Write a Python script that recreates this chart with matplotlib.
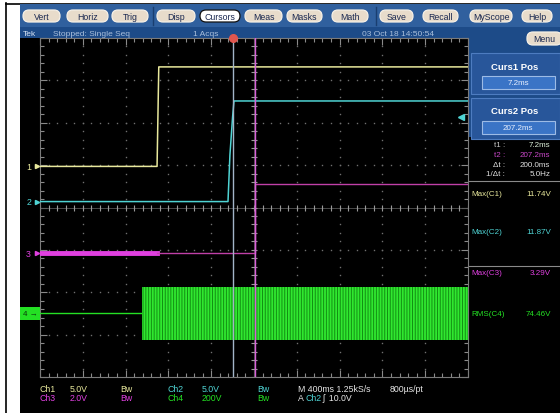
import numpy as np
import matplotlib
matplotlib.use("Agg")
import matplotlib.pyplot as plt
import matplotlib.transforms as mtrans
from matplotlib.patches import Rectangle, FancyBboxPatch

plt.rcParams['font.family'] = ['Liberation Sans Narrow', 'Liberation Sans', 'DejaVu Sans']
plt.rcParams['hatch.linewidth'] = 0.7

# =========================
# 数据（从截图读出）
# =========================
t_start, t_end = -1.8, 2.2          # s, 10 div x 400ms
sec_per_div = 0.4

ch_names = ['Ch1', 'Ch2', 'Ch3', 'Ch4']
ch_scale = [5.0, 5.0, 2.0, 200.0]            # V/div
ch_offset = [0.97, 0.14, -1.08, -2.5]        # ground position (div)
ch_colors = ['#e8e89c', '#4fd4d4', '#e040e0', '#24e024']

ch1_t = [-1.8, -0.706, -0.702, -0.690, 2.2]
ch1_v = [0.0, 0.0, 2.9, 11.74, 11.74]

ch2_t = [-1.8, -0.043, -0.025, 0.0, 0.013, 2.2]
ch2_v = [0.0, 0.0, 5.5, 10.0, 11.87, 11.87]

ch3_noise_t = [-1.8, -0.706]
ch3_noise_v = [0.0, 0.0]
ch3_t = [-0.706, 0.2072, 0.2072, 2.2]
ch3_v = [0.0, 0.0, 3.29, 3.29]

ch4_t = [-1.8, -0.847]
ch4_v = [0.0, 0.0]
ch4_burst_t = [-0.847, 2.2]
ch4_peak = [125.0, 125.0]                    # V

cursor_t = [0.0072, 0.2072]                  # s
trig_level = 10.0                            # V on Ch2

meas_labels = ['Max(C1)', 'Max(C2)', 'Max(C3)', 'RMS(C4)']
meas_values = [11.74, 11.87, 3.29, 74.46]

buttons = ['Vert', 'Horiz', 'Trig', 'Disp', 'Cursors', 'Meas',
           'Masks', 'Math', 'Save', 'Recall', 'MyScope', 'Help']
button_x = [(23, 60), (67, 108), (112, 148), (157, 195), (200, 240), (245, 282),
            (287, 322), (332, 368), (380, 413), (423, 458), (470, 512), (522, 552)]


def to_div(v, i):
    return np.asarray(v) / ch_scale[i] + ch_offset[i]


# =========================
# 背景（像素坐标）
# =========================
fig = plt.figure(figsize=(5.6, 4.14), dpi=100)
bg = fig.add_axes([0, 0, 1, 1])
bg.set_xlim(0, 560)
bg.set_ylim(414, 0)
bg.axis('off')


def rect(x0, y0, x1, y1, fc, ec='none', lw=0, z=1):
    bg.add_patch(Rectangle((x0, y0), x1 - x0, y1 - y0, facecolor=fc,
                           edgecolor=ec, linewidth=lw, zorder=z))


def button(x0, x1, y0, y1, label, selected=False):
    fc = 'white' if selected else '#e8dccb'
    ec = '#111111' if selected else '#f6f0e6'
    bg.add_patch(FancyBboxPatch((x0, y0), x1 - x0, y1 - y0,
                                boxstyle='round,pad=0,rounding_size=6',
                                facecolor=fc, edgecolor=ec, linewidth=0.9, zorder=3))
    bg.text((x0 + x1) / 2, (y0 + y1) / 2 + 0.5, label, color='#1a2850', fontsize=6.3,
            ha='center', va='center', zorder=4)


rect(0, 0, 560, 414, 'white', z=0)
rect(20, 5, 560, 414, 'black')
bg.plot([6, 6], [4, 414], color='black', lw=1.2)
bg.plot([6, 560], [4.5, 4.5], color='black', lw=1.2)

# toolbar
rect(20, 5, 560, 28, '#30609e', z=2)
for lab, (x0, x1) in zip(buttons, button_x):
    button(x0, x1, 11, 23, lab, selected=(lab == 'Cursors'))
for xs in (153, 376):
    bg.plot([xs, xs], [8, 26], color='#1a3e70', lw=1, zorder=3)

# status bar
rect(20, 28, 470, 39, '#1d4b88', z=2)
bg.text(23, 34, 'Tek', color='#d8e4f4', fontsize=6, va='center', zorder=4)
bg.text(53, 34, 'Stopped: Single Seq', color='#a9bfdc', fontsize=6, va='center', zorder=4)
bg.text(193, 34, '1 Acqs', color='#a9bfdc', fontsize=6, va='center', zorder=4)
bg.text(362, 34, '03 Oct 18 14:50:54', color='#a9bfdc', fontsize=6, va='center', zorder=4)

# right panel
rect(469, 28, 560, 138, '#1d4b88', z=2)
button(527, 562, 33, 46, 'Menu')
for k, yb in enumerate((54, 99)):
    rect(471, yb, 560, yb + 41, '#28569a', ec='#4d7cc0', lw=0.8, z=3)
    rect(482, yb + 23, 555, yb + 36, '#3a74c6', ec='#9cbbe6', lw=0.8, z=4)
    bg.text(515, yb + 13, f'Curs{k + 1} Pos', color='white', fontsize=6.8,
            fontweight='bold', ha='center', va='center', zorder=5)
    bg.text(518, yb + 29.5, f'{cursor_t[k] * 1000:.1f}ms', color='#e8f0ff',
            fontsize=5.8, ha='center', va='center', zorder=5)

dt = cursor_t[1] - cursor_t[0]
readouts = [
    ('t1 :', f'{cursor_t[0] * 1000:.1f}ms', '#c8c8c8', '#dcefd8', 146),
    ('t2 :', f'{cursor_t[1] * 1000:.1f}ms', '#c848c8', '#c848c8', 156),
    ('\u0394t :', f'{dt * 1000:.1f}ms', '#e0e0e0', '#e0e0e0', 166),
    ('1/\u0394t :', f'{1 / dt:.1f}Hz', '#e0e0e0', '#e0e0e0', 175),
]
for lab, val, c1, c2, y in readouts:
    bg.text(505, y, lab, color=c1, fontsize=5.8, ha='right', va='center', zorder=5)
    bg.text(550, y, val, color=c2, fontsize=5.8, ha='right', va='center', zorder=5)

meas_y = [195, 233, 274, 315]
for i, (lab, val, y) in enumerate(zip(meas_labels, meas_values, meas_y)):
    bg.text(471, y, lab, color=ch_colors[i], fontsize=5.8, va='center', zorder=5)
    bg.text(551, y, f'{val:.2f}V', color=ch_colors[i], fontsize=5.8,
            ha='right', va='center', zorder=5)
for ys in (182, 267):
    bg.plot([469, 560], [ys, ys], color='#8a8a8a', lw=0.8, zorder=4)

# bottom readouts
row1 = [('Ch1', 40), ('5.0V', 70), ('Bw', 120), ('Ch2', 168), ('5.0V', 202), ('Bw', 257)]
row2 = [('Ch3', 40), ('2.0V', 70), ('Bw', 120), ('Ch4', 168), ('200V', 202), ('Bw', 257)]
row1_c = [ch_colors[0]] * 3 + [ch_colors[1]] * 3
row2_c = [ch_colors[2]] * 3 + [ch_colors[3]] * 3
for (s, x), c in zip(row1, row1_c):
    bg.text(x, 390, s, color=c, fontsize=6.3, va='center', zorder=5)
for (s, x), c in zip(row2, row2_c):
    bg.text(x, 399, s, color=c, fontsize=6.3, va='center', zorder=5)
bg.text(298, 390, 'M 400ms 1.25kS/s', color='#e6e6e6', fontsize=6.3, va='center', zorder=5)
bg.text(390, 390, '800\u00b5s/pt', color='#e6e6e6', fontsize=6.3, va='center', zorder=5)
bg.text(298, 399, 'A', color='#e6e6e6', fontsize=6.3, va='center', zorder=5)
bg.text(306, 399, 'Ch2', color=ch_colors[1], fontsize=6.3, va='center', zorder=5)
bg.text(322, 399, '\u0283  10.0V', color='#e6e6e6', fontsize=6.3, va='center', zorder=5)

# =========================
# 示波器网格
# =========================
ax = fig.add_axes([40 / 560, 1 - 378 / 414, 428 / 560, 339 / 414])
ax.set_facecolor('black')
ax.set_xlim(t_start, t_end)
ax.set_ylim(-4, 4)

grid_c = '#707070'
xs_major = np.linspace(t_start, t_end, 11)
ys_major = np.linspace(-4, 4, 9)
dot_x = np.linspace(t_start, t_end, 51)
dot_y = np.linspace(-4, 4, 41)
for y in ys_major[1:-1]:
    ax.plot(dot_x, np.full_like(dot_x, y), ls='none', marker='s', ms=1.0,
            mew=0, color=grid_c)
for x in xs_major[1:-1]:
    ax.plot(np.full_like(dot_y, x), dot_y, ls='none', marker='s', ms=1.0,
            mew=0, color=grid_c)

x_mid = xs_major[5]
ax.axhline(0, color='#555555', lw=0.6)
ax.axvline(x_mid, color='#555555', lw=0.6)
ax.plot(dot_x, np.zeros_like(dot_x), ls='none', marker='|', ms=4, mew=0.8, color='#9a9a9a')
ax.plot(np.full_like(dot_y, x_mid), dot_y, ls='none', marker='_', ms=4, mew=0.8, color='#9a9a9a')

ax.set_xticks(xs_major)
ax.set_xticks(dot_x, minor=True)
ax.set_yticks(ys_major)
ax.set_yticks(dot_y, minor=True)
ax.tick_params(which='both', direction='in', top=True, right=True, color='#8a8a8a',
               labelbottom=False, labelleft=False, width=0.8)
ax.tick_params(which='major', length=5)
ax.tick_params(which='minor', length=3)
for sp in ax.spines.values():
    sp.set_color('#7a7a7a')
    sp.set_linewidth(0.8)

# =========================
# 波形
# =========================
ax.plot(ch4_t, to_div(ch4_v, 3), color=ch_colors[3], lw=1, zorder=3)
ax.fill_between(ch4_burst_t, to_div(np.negative(ch4_peak), 3), to_div(ch4_peak, 3),
                facecolor='#30e830', edgecolor='#138f13', hatch='||||||', lw=0, zorder=3)

ax.plot(ch3_noise_t, to_div(ch3_noise_v, 2), color=ch_colors[2], lw=3.5, zorder=4)
ax.plot(ch3_t, to_div(ch3_v, 2), color='#c040a8', lw=1, zorder=4)

ax.plot(ch2_t, to_div(ch2_v, 1), color=ch_colors[1], lw=1.1, zorder=5)
ax.plot(ch1_t, to_div(ch1_v, 0), color=ch_colors[0], lw=1.1, zorder=5)

# cursors
ax.axvline(cursor_t[0], color='#a2b4c8', lw=1.0, zorder=6)
ax.axvline(cursor_t[1], color='#d860d8', lw=1.0, zorder=6)

# trigger markers
ax.plot(0, 4, marker='o', ms=5.5, color='#e0564e', clip_on=False, zorder=7)
ax.plot(t_end - 0.07, to_div(trig_level, 1), marker='<', ms=4, color=ch_colors[1], zorder=7)

# channel ground markers
trans = mtrans.blended_transform_factory(ax.transAxes, ax.transData)
for i in range(3):
    ax.text(-0.021, ch_offset[i], str(i + 1), transform=trans, color=ch_colors[i],
            fontsize=6.3, ha='right', va='center', clip_on=False)
    ax.plot(-0.008, ch_offset[i], marker='>', ms=3, color=ch_colors[i],
            transform=trans, clip_on=False)
ax.text(-0.0235, ch_offset[3], '4 \u2192', transform=trans, color='#0a3a0a', fontsize=5.8,
        ha='center', va='center', clip_on=False,
        bbox=dict(boxstyle='square,pad=0.35', facecolor=ch_colors[3], edgecolor='none'))

fig.savefig('out.png', dpi=100, facecolor='white')
